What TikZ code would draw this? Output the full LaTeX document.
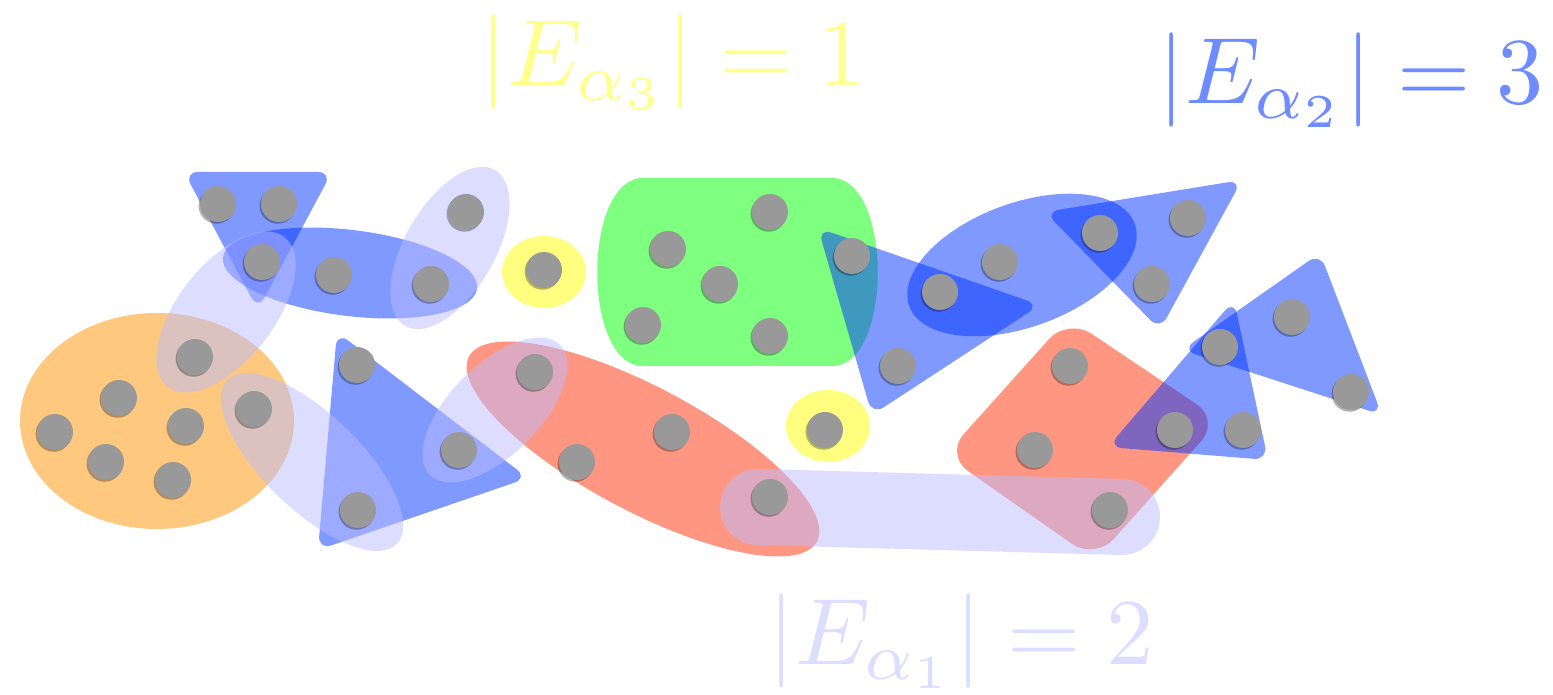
\documentclass[tikz,border=0pt]{standalone}
\usepackage{amsmath,amssymb}
\usetikzlibrary{shadows}

\definecolor{hblue}{RGB}{0,51,255}
\definecolor{hlav}{RGB}{187,189,255}
\definecolor{horange}{RGB}{255,145,0}
\definecolor{hgreen}{RGB}{0,255,0}
\definecolor{hred}{RGB}{255,45,5}
\definecolor{hyellow}{RGB}{255,255,0}
\definecolor{vgray}{RGB}{153,153,153}
\definecolor{labyellow}{RGB}{255,255,140}
\definecolor{labblue}{RGB}{110,140,255}
\definecolor{lablav}{RGB}{221,221,255}

\begin{document}
\begin{tikzpicture}[x=0.01cm,y=-0.01cm,
  vtx/.style={circle,fill=vgray,minimum size=0.36cm,inner sep=0pt,
    drop shadow={shadow xshift=-0.4pt,shadow yshift=-0.5pt,fill=black,opacity=0.3}},
  hedge/.style={fill=#1,fill opacity=0.5},
  tri/.style={hedge=hblue,rounded corners=4pt},
  lab/.style={anchor=base west,inner sep=0pt,scale=2.68,transform shape}]
  \useasboundingbox (0,0) rectangle (1553,695);

  % hyperedges
  \fill[hedge=horange] (157,421) ellipse [x radius=137,y radius=108];
  \fill[hedge=hgreen] (640,178) -- (835,178) .. controls (892,185) and (892,360) .. (835,366)
    -- (640,366) .. controls (583,360) and (583,185) .. (640,178) -- cycle;
  \fill[hedge=hred,rotate around={-28:(643,449)}] (643,449) ellipse [x radius=197,y radius=62];
  \fill[hedge=hred,rounded corners=8pt] (1068,318) -- (1220,420) -- (1095,560) -- (945,455) -- cycle;
  \fill[hedge=hyellow] (544,272) ellipse [x radius=42,y radius=36];
  \fill[hedge=hyellow] (828,426) ellipse [x radius=42,y radius=36];

  \fill[tri] (184,172) -- (332,172) -- (258,310) -- cycle;
  \fill[tri] (337,332) -- (528,478) -- (318,550) -- cycle;
  \fill[tri] (818,228) -- (1040,305) -- (872,415) -- cycle;
  \fill[tri] (1045,212) -- (1242,180) -- (1160,330) -- cycle;
  \fill[tri] (1234,300) -- (1268,460) -- (1108,447) -- cycle;
  \fill[tri] (1320,253) -- (1382,415) -- (1182,350) -- cycle;
  \fill[hedge=hblue,rotate around={-7:(350,273)}] (350,273) ellipse [x radius=128,y radius=43];
  \fill[hedge=hblue,rotate around={20:(1022,265)}] (1022,265) ellipse [x radius=120,y radius=62];

  \fill[hedge=hlav,rotate around={60:(450,248)}] (450,248) ellipse [x radius=90,y radius=45];
  \fill[hedge=hlav,rotate around={52:(226,312)}] (226,312) ellipse [x radius=95,y radius=48];
  \fill[hedge=hlav,rotate around={-44:(312,462)}] (312,462) ellipse [x radius=118,y radius=48];
  \fill[hedge=hlav,rotate around={45:(495,410)}] (495,410) ellipse [x radius=92,y radius=45];
  \draw[hlav,draw opacity=0.5,line width=0.76cm,line cap=round] (758,507) -- (1122,517);

  % vertices
  \foreach \x/\y [count=\i] in {55/432,119/398,186/426,106/462,173/480,195/357,254/409,
      218/204,279/204,262/262,334/275,431/284,466/212,544/270,357/365,459/450,358/510,
      535/372,577/462,672/432,770/497,668/249,770/212,720/284,643/325,770/336,852/256,
      825/430,940/292,898/366,1000/262,1100/233,1188/218,1152/284,1070/366,1035/450,
      1110/510,1175/430,1220/347,1243/430,1292/317,1351/392}
    \node[vtx] (v\i) at (\x,\y) {};

  % labels
  \node[lab,text=labyellow] (l3) at (479,86) {$|E_{\alpha_3}| = 1$};
  \node[lab,text=labblue] (l2) at (1157,104) {$|E_{\alpha_2}| = 3$};
  \node[lab,text=lablav] (l1) at (767,665) {$|E_{\alpha_1}| = 2$};
\end{tikzpicture}
\end{document}
